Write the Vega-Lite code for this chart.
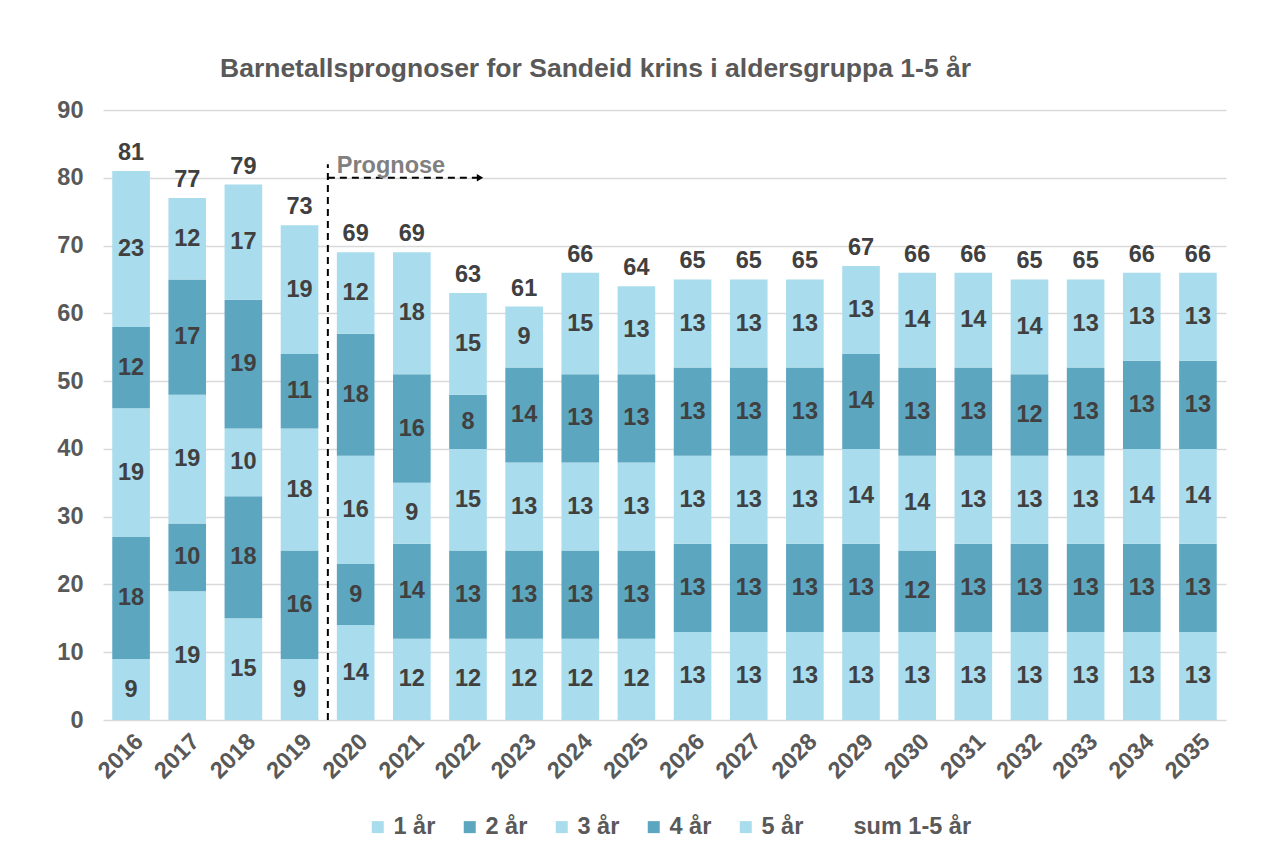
{
  "$schema": "https://vega.github.io/schema/vega-lite/v6.json",
  "width": 1123,
  "height": 610,
  "autosize": {"type": "none"},
  "padding": {"left": 103, "top": 110, "right": 58, "bottom": 125},
  "background": "white",
  "config": {"font": "Liberation Sans", "view": {"stroke": null}},
  "title": {
    "text": "Barnetallsprognoser for Sandeid krins i aldersgruppa 1-5 år",
    "anchor": "start",
    "frame": "group",
    "dx": 117,
    "fontSize": 26.5,
    "fontWeight": "bold",
    "color": "#595959",
    "offset": 16
  },
  "datasets": {
    "kids": [
      {"year": "2016", "age": "1 år", "idx": 1, "value": 9},
      {"year": "2016", "age": "2 år", "idx": 2, "value": 18},
      {"year": "2016", "age": "3 år", "idx": 3, "value": 19},
      {"year": "2016", "age": "4 år", "idx": 4, "value": 12},
      {"year": "2016", "age": "5 år", "idx": 5, "value": 23},
      {"year": "2017", "age": "1 år", "idx": 1, "value": 19},
      {"year": "2017", "age": "2 år", "idx": 2, "value": 10},
      {"year": "2017", "age": "3 år", "idx": 3, "value": 19},
      {"year": "2017", "age": "4 år", "idx": 4, "value": 17},
      {"year": "2017", "age": "5 år", "idx": 5, "value": 12},
      {"year": "2018", "age": "1 år", "idx": 1, "value": 15},
      {"year": "2018", "age": "2 år", "idx": 2, "value": 18},
      {"year": "2018", "age": "3 år", "idx": 3, "value": 10},
      {"year": "2018", "age": "4 år", "idx": 4, "value": 19},
      {"year": "2018", "age": "5 år", "idx": 5, "value": 17},
      {"year": "2019", "age": "1 år", "idx": 1, "value": 9},
      {"year": "2019", "age": "2 år", "idx": 2, "value": 16},
      {"year": "2019", "age": "3 år", "idx": 3, "value": 18},
      {"year": "2019", "age": "4 år", "idx": 4, "value": 11},
      {"year": "2019", "age": "5 år", "idx": 5, "value": 19},
      {"year": "2020", "age": "1 år", "idx": 1, "value": 14},
      {"year": "2020", "age": "2 år", "idx": 2, "value": 9},
      {"year": "2020", "age": "3 år", "idx": 3, "value": 16},
      {"year": "2020", "age": "4 år", "idx": 4, "value": 18},
      {"year": "2020", "age": "5 år", "idx": 5, "value": 12},
      {"year": "2021", "age": "1 år", "idx": 1, "value": 12},
      {"year": "2021", "age": "2 år", "idx": 2, "value": 14},
      {"year": "2021", "age": "3 år", "idx": 3, "value": 9},
      {"year": "2021", "age": "4 år", "idx": 4, "value": 16},
      {"year": "2021", "age": "5 år", "idx": 5, "value": 18},
      {"year": "2022", "age": "1 år", "idx": 1, "value": 12},
      {"year": "2022", "age": "2 år", "idx": 2, "value": 13},
      {"year": "2022", "age": "3 år", "idx": 3, "value": 15},
      {"year": "2022", "age": "4 år", "idx": 4, "value": 8},
      {"year": "2022", "age": "5 år", "idx": 5, "value": 15},
      {"year": "2023", "age": "1 år", "idx": 1, "value": 12},
      {"year": "2023", "age": "2 år", "idx": 2, "value": 13},
      {"year": "2023", "age": "3 år", "idx": 3, "value": 13},
      {"year": "2023", "age": "4 år", "idx": 4, "value": 14},
      {"year": "2023", "age": "5 år", "idx": 5, "value": 9},
      {"year": "2024", "age": "1 år", "idx": 1, "value": 12},
      {"year": "2024", "age": "2 år", "idx": 2, "value": 13},
      {"year": "2024", "age": "3 år", "idx": 3, "value": 13},
      {"year": "2024", "age": "4 år", "idx": 4, "value": 13},
      {"year": "2024", "age": "5 år", "idx": 5, "value": 15},
      {"year": "2025", "age": "1 år", "idx": 1, "value": 12},
      {"year": "2025", "age": "2 år", "idx": 2, "value": 13},
      {"year": "2025", "age": "3 år", "idx": 3, "value": 13},
      {"year": "2025", "age": "4 år", "idx": 4, "value": 13},
      {"year": "2025", "age": "5 år", "idx": 5, "value": 13},
      {"year": "2026", "age": "1 år", "idx": 1, "value": 13},
      {"year": "2026", "age": "2 år", "idx": 2, "value": 13},
      {"year": "2026", "age": "3 år", "idx": 3, "value": 13},
      {"year": "2026", "age": "4 år", "idx": 4, "value": 13},
      {"year": "2026", "age": "5 år", "idx": 5, "value": 13},
      {"year": "2027", "age": "1 år", "idx": 1, "value": 13},
      {"year": "2027", "age": "2 år", "idx": 2, "value": 13},
      {"year": "2027", "age": "3 år", "idx": 3, "value": 13},
      {"year": "2027", "age": "4 år", "idx": 4, "value": 13},
      {"year": "2027", "age": "5 år", "idx": 5, "value": 13},
      {"year": "2028", "age": "1 år", "idx": 1, "value": 13},
      {"year": "2028", "age": "2 år", "idx": 2, "value": 13},
      {"year": "2028", "age": "3 år", "idx": 3, "value": 13},
      {"year": "2028", "age": "4 år", "idx": 4, "value": 13},
      {"year": "2028", "age": "5 år", "idx": 5, "value": 13},
      {"year": "2029", "age": "1 år", "idx": 1, "value": 13},
      {"year": "2029", "age": "2 år", "idx": 2, "value": 13},
      {"year": "2029", "age": "3 år", "idx": 3, "value": 14},
      {"year": "2029", "age": "4 år", "idx": 4, "value": 14},
      {"year": "2029", "age": "5 år", "idx": 5, "value": 13},
      {"year": "2030", "age": "1 år", "idx": 1, "value": 13},
      {"year": "2030", "age": "2 år", "idx": 2, "value": 12},
      {"year": "2030", "age": "3 år", "idx": 3, "value": 14},
      {"year": "2030", "age": "4 år", "idx": 4, "value": 13},
      {"year": "2030", "age": "5 år", "idx": 5, "value": 14},
      {"year": "2031", "age": "1 år", "idx": 1, "value": 13},
      {"year": "2031", "age": "2 år", "idx": 2, "value": 13},
      {"year": "2031", "age": "3 år", "idx": 3, "value": 13},
      {"year": "2031", "age": "4 år", "idx": 4, "value": 13},
      {"year": "2031", "age": "5 år", "idx": 5, "value": 14},
      {"year": "2032", "age": "1 år", "idx": 1, "value": 13},
      {"year": "2032", "age": "2 år", "idx": 2, "value": 13},
      {"year": "2032", "age": "3 år", "idx": 3, "value": 13},
      {"year": "2032", "age": "4 år", "idx": 4, "value": 12},
      {"year": "2032", "age": "5 år", "idx": 5, "value": 14},
      {"year": "2033", "age": "1 år", "idx": 1, "value": 13},
      {"year": "2033", "age": "2 år", "idx": 2, "value": 13},
      {"year": "2033", "age": "3 år", "idx": 3, "value": 13},
      {"year": "2033", "age": "4 år", "idx": 4, "value": 13},
      {"year": "2033", "age": "5 år", "idx": 5, "value": 13},
      {"year": "2034", "age": "1 år", "idx": 1, "value": 13},
      {"year": "2034", "age": "2 år", "idx": 2, "value": 13},
      {"year": "2034", "age": "3 år", "idx": 3, "value": 14},
      {"year": "2034", "age": "4 år", "idx": 4, "value": 13},
      {"year": "2034", "age": "5 år", "idx": 5, "value": 13},
      {"year": "2035", "age": "1 år", "idx": 1, "value": 13},
      {"year": "2035", "age": "2 år", "idx": 2, "value": 13},
      {"year": "2035", "age": "3 år", "idx": 3, "value": 14},
      {"year": "2035", "age": "4 år", "idx": 4, "value": 13},
      {"year": "2035", "age": "5 år", "idx": 5, "value": 13}
    ],
    "vline": [{"year": "2019", "ylo": 0, "yhi": 82}],
    "hline": [{"year": "2019", "year_end": "2022", "y": 80}],
    "arrow": [{"year": "2022", "y": 80}],
    "label": [{"year": "2019", "y": 80, "text": "Prognose"}]
  },
  "encoding": {
    "x": {
      "field": "year",
      "type": "ordinal",
      "scale": {"paddingInner": 0.33, "paddingOuter": 0.165},
      "axis": {
        "title": null,
        "labelAngle": -45,
        "labelFontSize": 23.5,
        "labelFontWeight": "bold",
        "labelColor": "#595959",
        "labelPadding": 9,
        "domain": false,
        "ticks": false
      }
    }
  },
  "layer": [
    {
      "data": {"name": "kids"},
      "mark": {"type": "bar"},
      "encoding": {
        "y": {
          "field": "value",
          "type": "quantitative",
          "stack": "zero",
          "scale": {"domain": [0, 90], "nice": false},
          "axis": {
            "title": null,
            "values": [0, 10, 20, 30, 40, 50, 60, 70, 80, 90],
            "grid": true,
            "gridColor": "#d9d9d9",
            "gridWidth": 1.3,
            "domain": false,
            "ticks": false,
            "labelFontSize": 23.5,
            "labelFontWeight": "bold",
            "labelColor": "#595959",
            "labelPadding": 20
          }
        },
        "color": {
          "field": "age",
          "type": "nominal",
          "scale": {
            "domain": ["1 år", "2 år", "3 år", "4 år", "5 år", "sum 1-5 år"],
            "range": ["#A9DCEC", "#5DA6C0", "#A9DCEC", "#5DA6C0", "#A9DCEC", "rgba(255,255,255,0)"]
          },
          "legend": {
            "orient": "none",
            "legendX": 263,
            "legendY": 705,
            "direction": "horizontal",
            "title": null,
            "symbolType": "square",
            "symbolSize": 144,
            "symbolStrokeWidth": 0,
            "labelFontSize": 23.5,
            "labelFontWeight": "bold",
            "labelColor": "#595959",
            "labelOffset": 4,
            "columnPadding": 22,
            "padding": 0
          }
        },
        "order": {"field": "idx", "type": "quantitative", "sort": "ascending"}
      }
    },
    {
      "data": {"name": "kids"},
      "mark": {"type": "text", "fontSize": 23.5, "fontWeight": "bold", "color": "#404040", "baseline": "middle"},
      "encoding": {
        "y": {"field": "value", "type": "quantitative", "stack": "zero", "bandPosition": 0.5},
        "detail": {"field": "age"},
        "order": {"field": "idx", "type": "quantitative", "sort": "ascending"},
        "text": {"field": "value", "type": "quantitative"}
      }
    },
    {
      "data": {"name": "kids"},
      "transform": [{"aggregate": [{"op": "sum", "field": "value", "as": "total"}], "groupby": ["year"]}],
      "mark": {"type": "text", "fontSize": 23.5, "fontWeight": "bold", "color": "#404040", "baseline": "alphabetic", "dy": -11},
      "encoding": {
        "y": {"field": "total", "type": "quantitative"},
        "text": {"field": "total", "type": "quantitative"}
      }
    },
    {
      "data": {"name": "vline"},
      "mark": {"type": "rule", "color": "black", "strokeWidth": 2, "strokeDash": [7, 5]},
      "encoding": {
        "x": {"field": "year", "type": "ordinal", "bandPosition": 1.253},
        "y": {"field": "ylo", "type": "quantitative"},
        "y2": {"field": "yhi"}
      }
    },
    {
      "data": {"name": "hline"},
      "mark": {"type": "rule", "color": "black", "strokeWidth": 2, "strokeDash": [7, 5]},
      "encoding": {
        "x": {"field": "year", "type": "ordinal", "bandPosition": 1.253},
        "x2": {"field": "year_end", "bandPosition": 0.8},
        "y": {"field": "y", "type": "quantitative"}
      }
    },
    {
      "data": {"name": "arrow"},
      "mark": {"type": "point", "shape": "triangle-right", "filled": true, "color": "black", "size": 55, "opacity": 1},
      "encoding": {
        "x": {"field": "year", "type": "ordinal", "bandPosition": 0.82},
        "y": {"field": "y", "type": "quantitative"}
      }
    },
    {
      "data": {"name": "label"},
      "mark": {"type": "text", "fontSize": 23.5, "fontWeight": "bold", "color": "#808080", "align": "left", "baseline": "alphabetic", "dy": -5},
      "encoding": {
        "x": {"field": "year", "type": "ordinal", "bandPosition": 1.49},
        "y": {"field": "y", "type": "quantitative"},
        "text": {"field": "text"}
      }
    }
  ]
}
